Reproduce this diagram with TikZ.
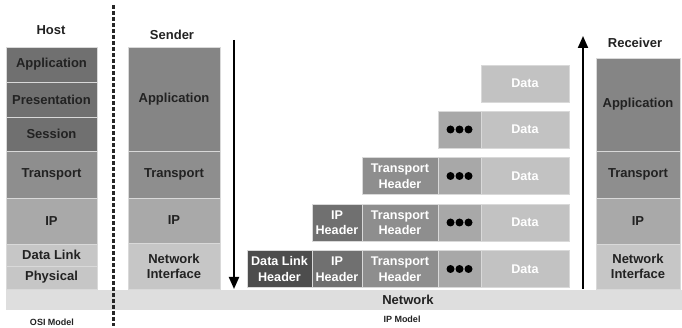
\documentclass[tikz,border=0pt]{standalone}
\usepackage{fontspec}
\setmainfont{Liberation Sans}
\usetikzlibrary{arrows.meta}
\definecolor{cA}{HTML}{707070}
\definecolor{cApp}{HTML}{858585}
\definecolor{cT}{HTML}{8E8E8E}
\definecolor{cIP}{HTML}{A9A9A9}
\definecolor{cL}{HTML}{C6C6C6}
\definecolor{cNet}{HTML}{DEDEDE}
\definecolor{cDL}{HTML}{4D4D4D}
\definecolor{cDots}{HTML}{A8A8A8}
\definecolor{cData}{HTML}{C2C2C2}
\definecolor{cTxt}{HTML}{222222}
\begin{document}
\begin{tikzpicture}[x=1pt,y=-1pt,
  box/.style={draw=white!85!black,line width=0.8pt,inner sep=0pt,align=center,
    font=\bfseries\fontsize{13}{15}\selectfont,text=cTxt},
  pkt/.style={draw=white!85!black,line width=0.8pt,inner sep=0pt,align=center,
    font=\bfseries\fontsize{12.6}{15.5}\selectfont,text=white,minimum height=37pt},
  title/.style={font=\bfseries\fontsize{13}{15}\selectfont,text=cTxt,inner sep=0pt},
  small/.style={font=\bfseries\fontsize{9}{11}\selectfont,text=cTxt,inner sep=0pt},
  flow/.style={line width=2pt,-{Triangle[width=10pt,length=12pt]}},
  dot/.style={circle,fill=black,inner sep=0pt,minimum size=8pt}]
\useasboundingbox (0,0) rectangle (682,328);
% network bar
\node[draw=none,fill=cNet,minimum width=676pt,minimum height=20pt,inner sep=0pt] (net) at (344,300) {};
\node[title] (netl) at (408,300) {Network};
\node[small] (ipm) at (402,319) {IP Model};
\node[small] (osim) at (52,322) {OSI Model};
% dashed separator
\coordinate (d1) at (113,5);
\coordinate (d2) at (113,326);
\draw[line width=3pt,dash pattern=on 4pt off 2pt,black!85] (d1) -- (d2);
% host
\node[title] (host) at (51,30) {Host};
\node[box,fill=cA,minimum width=91pt,minimum height=35pt] (h1) at (51.5,64.5) {Application};
\node[box,fill=cA,minimum width=91pt,minimum height=35pt] (h2) at (51.5,99.5) {Presentation};
\node[box,fill=cA,minimum width=91pt,minimum height=34pt] (h3) at (51.5,134) {Session};
\node[box,fill=cT,minimum width=91pt,minimum height=47pt] (h4) at (51.5,174.5) {Transport};
\node[box,fill=cIP,minimum width=91pt,minimum height=46pt] (h5) at (51.5,221) {IP};
\node[box,fill=cL,minimum width=91pt,minimum height=22pt] (h6) at (51.5,255) {Data Link};
\node[box,fill=cL,minimum width=91pt,minimum height=23pt] (h7) at (51.5,277.5) {Physical};
% sender
\node[title] (snd) at (172,35) {Sender};
\node[box,fill=cApp,minimum width=92pt,minimum height=104pt] (s1) at (174,99) {Application};
\node[box,fill=cT,minimum width=92pt,minimum height=47pt] (s2) at (174,174.5) {Transport};
\node[box,fill=cIP,minimum width=92pt,minimum height=45pt] (s3) at (174,220.5) {IP};
\node[box,fill=cL,minimum width=92pt,minimum height=46pt] (s4) at (174,266) {Network\\Interface};
% receiver
\node[title] (rcv) at (635,43) {Receiver};
\node[box,fill=cApp,minimum width=84pt,minimum height=93pt] (r1) at (638,104.5) {Application};
\node[box,fill=cT,minimum width=84pt,minimum height=47pt] (r2) at (638,174.5) {Transport};
\node[box,fill=cIP,minimum width=84pt,minimum height=46pt] (r3) at (638,221) {IP};
\node[box,fill=cL,minimum width=84pt,minimum height=45pt] (r4) at (638,266.5) {Network\\Interface};
% arrows
\coordinate (a1) at (234,40);
\coordinate (a2) at (234,289);
\draw[flow] (a1) -- (a2);
\coordinate (b1) at (583,289);
\coordinate (b2) at (583,36);
\draw[flow] (b1) -- (b2);
% packets
\node[pkt,fill=cData,minimum width=88pt] (p1d) at (525,83.5) {Data};
\node[pkt,fill=cDots,minimum width=43pt] (p2o) at (459.5,129.5) {};
\node[pkt,fill=cData,minimum width=88pt] (p2d) at (525,129.5) {Data};
\node[pkt,fill=cT,minimum width=76pt] (p3t) at (400,176) {Transport\\Header};
\node[pkt,fill=cDots,minimum width=43pt] (p3o) at (459.5,176) {};
\node[pkt,fill=cData,minimum width=88pt] (p3d) at (525,176) {Data};
\node[pkt,fill=cA,minimum width=50pt] (p4i) at (337,222.5) {IP\\Header};
\node[pkt,fill=cT,minimum width=76pt] (p4t) at (400,222.5) {Transport\\Header};
\node[pkt,fill=cDots,minimum width=43pt] (p4o) at (459.5,222.5) {};
\node[pkt,fill=cData,minimum width=88pt] (p4d) at (525,222.5) {Data};
\node[pkt,fill=cDL,minimum width=65pt] (p5l) at (279.5,269) {Data Link\\Header};
\node[pkt,fill=cA,minimum width=50pt] (p5i) at (337,269) {IP\\Header};
\node[pkt,fill=cT,minimum width=76pt] (p5t) at (400,269) {Transport\\Header};
\node[pkt,fill=cDots,minimum width=43pt] (p5o) at (459.5,269) {};
\node[pkt,fill=cData,minimum width=88pt] (p5d) at (525,269) {Data};
% dots
\foreach \b in {p2o,p3o,p4o,p5o}{
  \node[dot] (\b-1) at ([xshift=-9pt]\b.center) {};
  \node[dot] (\b-2) at (\b.center) {};
  \node[dot] (\b-3) at ([xshift=9pt]\b.center) {};
}
\end{tikzpicture}
\end{document}
